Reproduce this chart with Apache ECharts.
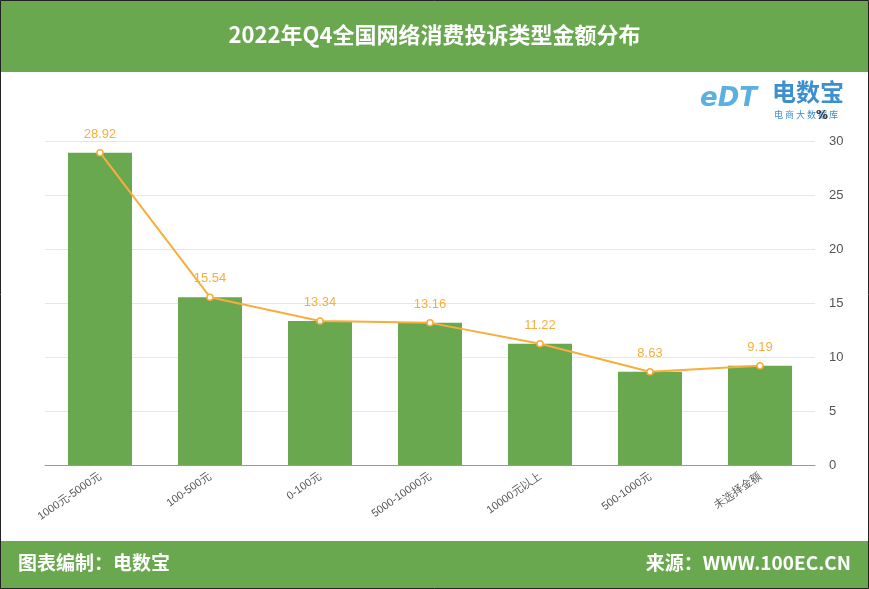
<!DOCTYPE html>
<html><head><meta charset="utf-8">
<script src="https://cdn.jsdelivr.net/npm/echarts@6/dist/echarts.min.js"></script>
<style>
html,body{margin:0;padding:0;background:#fff;}
#c{width:869px;height:589px;}
</style></head>
<body><div id="c"></div>
<script>
var categories = ['1000元-5000元', '100-500元', '0-100元', '5000-10000元', '10000元以上', '500-1000元', '未选择金额'];
var barValues = [28.92, 15.54, 13.34, 13.16, 11.22, 8.63, 9.19];
var lineValues = [28.92, 15.54, 13.34, 13.16, 11.22, 8.63, 9.19];

var green = '#6aa84f';
var orange = '#f8ae3c';
var chart = echarts.init(document.getElementById('c'));
var option = {
  backgroundColor: '#fff',
  graphic: [
    { type: 'rect', shape: { x: 0, y: 0, width: 869, height: 72 }, style: { fill: green } },
    { type: 'rect', shape: { x: 0, y: 541, width: 869, height: 48 }, style: { fill: green } },
    { type: 'rect', shape: { x: 0.5, y: 0.5, width: 868, height: 588 }, style: { fill: 'none', stroke: '#222', lineWidth: 1 } },
    { type: 'text', left: 'center', top: 24, style: { text: '2022年Q4全国网络消费投诉类型金额分布', fill: '#fff', font: 'bold 22px "Noto Sans CJK SC"' } },
    { type: 'text', left: 18, top: 553, style: { text: '图表编制：电数宝', fill: '#fff', font: 'bold 19px "Noto Sans CJK SC"' } },
    { type: 'text', right: 18, top: 553, style: { text: '来源：WWW.100EC.CN', fill: '#fff', font: 'bold 19px "Noto Sans CJK SC"' } },
    { type: 'text', left: 700, top: 86, style: { text: 'eDT', fill: '#5ab0e0', font: 'bold italic 26px "DejaVu Sans"' } },
    { type: 'text', left: 772, top: 80, style: { text: '电数宝', fill: '#3d8fd0', font: 'bold 24px "Noto Sans CJK SC"' } },
    { type: 'text', left: 774, top: 110, style: { text: '电 商 大 数 据 库', fill: '#3d8fd0', font: '9px "Noto Sans CJK SC"' } },
    { type: 'text', left: 816, top: 110, style: { text: '%', fill: '#333', font: 'bold 12px "DejaVu Sans"' } }
  ],
  grid: { left: 45, right: 54, top: 141, bottom: 124 },
  xAxis: {
    type: 'category', data: categories,
    axisTick: { show: false },
    axisLine: { lineStyle: { color: '#999' } },
    axisLabel: { rotate: 35, interval: 0, color: '#555', fontSize: 11, margin: 10 }
  },
  yAxis: {
    type: 'value', position: 'right', min: 0, max: 30, interval: 5,
    axisLine: { show: false }, axisTick: { show: false },
    axisLabel: { color: '#555', fontSize: 13, margin: 14 },
    splitLine: { lineStyle: { color: '#e6e6e6' } }
  },
  series: [
    { type: 'bar', data: barValues, barWidth: 64, itemStyle: { color: green } },
    { type: 'line', data: lineValues, symbol: 'circle', symbolSize: 6,
      lineStyle: { color: orange, width: 2 },
      itemStyle: { color: '#fff', borderColor: orange, borderWidth: 1.5 },
      label: { show: true, position: 'top', color: orange, fontSize: 13, distance: 8 } }
  ]
};
chart.setOption(option);
</script></body></html>
